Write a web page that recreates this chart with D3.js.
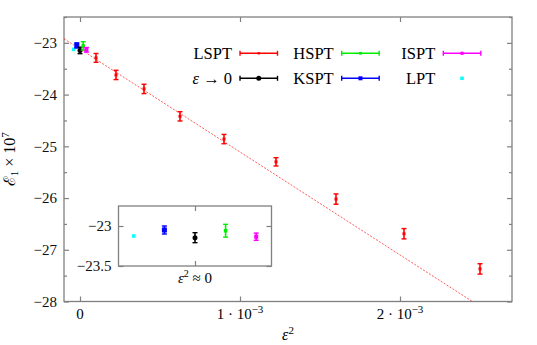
<!DOCTYPE html>
<html>
<head>
<meta charset="utf-8">
<script src="https://cdn.jsdelivr.net/npm/d3@7"></script>
</head>
<body style="margin:0">
<div class="chart"></div>
<script>
// LSPT series (red), x = eps^2
var lsptX = [1e-4, 2.25e-4, 4e-4, 6.25e-4, 9e-4, 1.225e-3, 1.6e-3, 2.025e-3, 2.5e-3];
var lsptY = [-23.29, -23.62, -23.89, -24.42, -24.86, -25.30, -26.02, -26.69, -27.37];
var lsptErr = [0.085, 0.09, 0.09, 0.09, 0.09, 0.08, 0.1, 0.1, 0.1];

// points at eps^2 ~ 0 (spread a little in x)
var zeroNames = ["LPT", "KSPT", "\u03b5 \u2192 0", "HSPT", "ISPT"];
var zeroX = [-4e-5, -2e-5, 0, 2e-5, 4e-5];
var zeroY = [-23.125, -23.05, -23.146, -23.059, -23.134];
var zeroErr = [0, 0.05, 0.0625, 0.08, 0.045];

// linear fit through LSPT
var fitIntercept = -23.12;
var fitSlope = -1990;

var yTicks = [-28, -27, -26, -25, -24, -23];
var yMinor = [-27.5, -26.5, -25.5, -24.5, -23.5, -22.5];
var xTicks = [0, 1e-3, 2e-3];
var xTickLabels = [["0", ""], ["1 \u00b7 10", "\u22123"], ["2 \u00b7 10", "\u22123"]];
var insetYTicks = [-23.5, -23];

// legend rows
var legendNames = ["LSPT", "HSPT", "ISPT", "\u03b5 \u2192 0", "KSPT", "LPT"];

var colors = {"LSPT": "#ff0000", "HSPT": "#00ee00", "ISPT": "#ff00ff",
  "\u03b5 \u2192 0": "#000000", "KSPT": "#0000ff", "LPT": "#00ffff"};
var markerSize = {"LSPT": 3, "HSPT": 3.5, "ISPT": 4, "\u03b5 \u2192 0": 5, "KSPT": 5, "LPT": 3.5};

var serif = "Liberation Serif";

// chart setup
var svgWidth = 537;
var svgHeight = 345;
var margin = { top: 17, right: 25, bottom: 43.5, left: 64 };
var width = svgWidth - margin.left - margin.right;
var height = svgHeight - margin.top - margin.bottom;

var svg = d3.select(".chart").append("svg")
  .attr("width", svgWidth)
  .attr("height", svgHeight)
  .style("font-family", serif);

var chartGroup = svg.append("g")
  .attr("transform", `translate(${margin.left},${margin.top})`);

var xScale = d3.scaleLinear().domain([-1e-4, 2.7e-3]).range([0, width]);
var yScale = d3.scaleLinear().domain([-28, -22.5]).range([height, 0]);

svg.append("defs").append("clipPath").attr("id", "plotclip")
  .append("rect").attr("width", width).attr("height", height);

// gray inward ticks, no domain path
function styleAxis(g) {
  g.select(".domain").remove();
  g.selectAll("line").attr("stroke", "#808080").attr("stroke-width", 1.2);
  g.selectAll("text").style("font-family", serif).style("font-size", "15px").attr("fill", "#111");
}

chartGroup.append("g").attr("transform", `translate(0,${height})`)
  .call(d3.axisBottom(xScale).tickValues(xTicks).tickSize(-5).tickFormat(""))
  .call(styleAxis);
chartGroup.append("g")
  .call(d3.axisTop(xScale).tickValues(xTicks).tickSize(-5).tickFormat(""))
  .call(styleAxis);
chartGroup.append("g")
  .call(d3.axisLeft(yScale).tickValues(yTicks).tickSize(-5).tickPadding(7)
    .tickFormat(d3.format("d")))
  .call(styleAxis);
chartGroup.append("g")
  .call(d3.axisLeft(yScale).tickValues(yMinor).tickSize(-3).tickFormat(""))
  .call(styleAxis);
chartGroup.append("g").attr("transform", `translate(${width},0)`)
  .call(d3.axisRight(yScale).tickValues(yTicks).tickSize(-5).tickFormat(""))
  .call(styleAxis);
chartGroup.append("g").attr("transform", `translate(${width},0)`)
  .call(d3.axisRight(yScale).tickValues(yMinor).tickSize(-3).tickFormat(""))
  .call(styleAxis);

// x tick labels with superscripts
xTicks.forEach(function(v, i) {
  var t = chartGroup.append("text")
    .attr("x", xScale(v))
    .attr("y", height + 17.5)
    .attr("text-anchor", "middle")
    .style("font-family", serif)
    .style("font-size", "15px")
    .text(xTickLabels[i][0]);
  if (xTickLabels[i][1]) {
    t.append("tspan").attr("dy", "-6").style("font-size", "11px").text(xTickLabels[i][1]);
  }
});

// frame
chartGroup.append("rect")
  .attr("width", width).attr("height", height)
  .attr("fill", "none").attr("stroke", "#808080").attr("stroke-width", 1.3);

// fit line
chartGroup.append("line")
  .attr("clip-path", "url(#plotclip)")
  .attr("x1", xScale(xScale.domain()[0]))
  .attr("y1", yScale(fitIntercept + fitSlope * xScale.domain()[0]))
  .attr("x2", xScale(xScale.domain()[1]))
  .attr("y2", yScale(fitIntercept + fitSlope * xScale.domain()[1]))
  .attr("stroke", "#ff0000").attr("stroke-width", 0.8)
  .attr("stroke-dasharray", "2,1.5").attr("opacity", 0.8);

// draw one point with error bar
function drawPoint(g, name, px, py, pLo, pHi) {
  var c = colors[name];
  var s = markerSize[name];
  if (pHi - pLo > 0.5) {
    g.append("line").attr("x1", px).attr("x2", px).attr("y1", pLo).attr("y2", pHi)
      .attr("stroke", c).attr("stroke-width", 1.6);
    [pLo, pHi].forEach(function(yy) {
      g.append("line").attr("x1", px - 2.5).attr("x2", px + 2.5).attr("y1", yy).attr("y2", yy)
        .attr("stroke", c).attr("stroke-width", 1.4);
    });
  }
  if (name === "\u03b5 \u2192 0") {
    g.append("circle").attr("cx", px).attr("cy", py).attr("r", s / 2).attr("fill", c);
  } else {
    g.append("rect").attr("x", px - s / 2).attr("y", py - s / 2)
      .attr("width", s).attr("height", s).attr("fill", c);
  }
}

lsptX.forEach(function(v, i) {
  drawPoint(chartGroup, "LSPT", xScale(v), yScale(lsptY[i]),
    yScale(lsptY[i] + lsptErr[i]), yScale(lsptY[i] - lsptErr[i]));
});
zeroX.forEach(function(v, i) {
  drawPoint(chartGroup, zeroNames[i], xScale(v), yScale(zeroY[i]),
    yScale(zeroY[i] + zeroErr[i]), yScale(zeroY[i] - zeroErr[i]));
});

// legend
var legendCols = [240 - margin.left, 341.7 - margin.left, 443.3 - margin.left];
var legendRows = [53.3 - margin.top, 78.3 - margin.top];
var lineLen = 37.5;
legendNames.forEach(function(name, i) {
  var lx = legendCols[i % 3];
  var ly = legendRows[Math.floor(i / 3)];
  var c = colors[name];
  var lg = chartGroup.append("g");
  var lt = lg.append("text").attr("x", lx - 8).attr("y", ly + 5.5)
    .attr("text-anchor", "end")
    .style("font-family", serif).style("font-size", "16.5px");
  if (name === "\u03b5 \u2192 0") {
    lt.append("tspan").style("font-style", "italic").text("\u03b5");
    lt.append("tspan").text(" \u2192 0");
  } else {
    lt.text(name);
  }
  if (name === "LPT") {
    drawPoint(lg, name, lx + lineLen / 2, ly, ly, ly);
    return;
  }
  lg.append("line").attr("x1", lx).attr("x2", lx + lineLen).attr("y1", ly).attr("y2", ly)
    .attr("stroke", c).attr("stroke-width", 1.5);
  [lx, lx + lineLen].forEach(function(xx) {
    lg.append("line").attr("x1", xx).attr("x2", xx).attr("y1", ly - 2.5).attr("y2", ly + 2.5)
      .attr("stroke", c).attr("stroke-width", 1.4);
  });
  var s = markerSize[name] * 0.8;
  if (name === "\u03b5 \u2192 0") {
    lg.append("circle").attr("cx", lx + lineLen / 2).attr("cy", ly).attr("r", 2.5).attr("fill", c);
  } else {
    lg.append("rect").attr("x", lx + lineLen / 2 - s / 2).attr("y", ly - s / 2)
      .attr("width", s).attr("height", s).attr("fill", c);
  }
});

// axis titles
var ylab = svg.append("text")
  .attr("transform", `translate(15, ${margin.top + height / 2}) rotate(-90)`)
  .attr("text-anchor", "middle")
  .style("font-family", serif)
  .style("font-size", "16px");
ylab.append("tspan").text("\u2130");
ylab.append("tspan").attr("dy", 3).style("font-size", "11px").text("1");
ylab.append("tspan").attr("dy", -3).text(" \u00d7 10");
ylab.append("tspan").attr("dy", -6).style("font-size", "11px").text("7");

var xlab = svg.append("text")
  .attr("x", margin.left + width / 2).attr("y", 340)
  .attr("text-anchor", "middle")
  .style("font-family", serif).style("font-size", "16px");
xlab.append("tspan").style("font-style", "italic").text("\u03b5");
xlab.append("tspan").attr("dy", -6).style("font-size", "11px").text("2");

// inset
var inset = { left: 118.5, top: 206, width: 153, height: 60 };
var insetGroup = svg.append("g")
  .attr("transform", `translate(${inset.left},${inset.top})`);
insetGroup.append("rect").attr("width", inset.width).attr("height", inset.height)
  .attr("fill", "#fff");

var ixScale = d3.scaleLinear().domain([-5e-5, 5e-5]).range([0, inset.width]);
var iyScale = d3.scaleLinear().domain([-23.5, -22.75]).range([inset.height, 0]);

insetGroup.append("g").attr("transform", `translate(0,${inset.height})`)
  .call(d3.axisBottom(ixScale).tickValues([0]).tickSize(-5).tickFormat(""))
  .call(styleAxis);
insetGroup.append("g")
  .call(d3.axisTop(ixScale).tickValues([0]).tickSize(-5).tickFormat(""))
  .call(styleAxis);
insetGroup.append("g")
  .call(d3.axisLeft(iyScale).tickValues(insetYTicks).tickSize(-5).tickPadding(7)
    .tickFormat(d3.format("")))
  .call(styleAxis);
insetGroup.append("g").attr("transform", `translate(${inset.width},0)`)
  .call(d3.axisRight(iyScale).tickValues(insetYTicks).tickSize(-5).tickFormat(""))
  .call(styleAxis);
insetGroup.append("rect").attr("width", inset.width).attr("height", inset.height)
  .attr("fill", "none").attr("stroke", "#808080").attr("stroke-width", 1.3);

zeroX.forEach(function(v, i) {
  drawPoint(insetGroup, zeroNames[i], ixScale(v), iyScale(zeroY[i]),
    iyScale(zeroY[i] + zeroErr[i]), iyScale(zeroY[i] - zeroErr[i]));
});

var ilab = insetGroup.append("text")
  .attr("x", inset.width / 2).attr("y", inset.height + 17)
  .attr("text-anchor", "middle")
  .style("font-family", serif).style("font-size", "15px");
ilab.append("tspan").style("font-style", "italic").text("\u03b5");
ilab.append("tspan").attr("dy", -6).style("font-size", "10px").text("2");
ilab.append("tspan").attr("dy", 6).text(" \u2248 0");
</script>
</body>
</html>
